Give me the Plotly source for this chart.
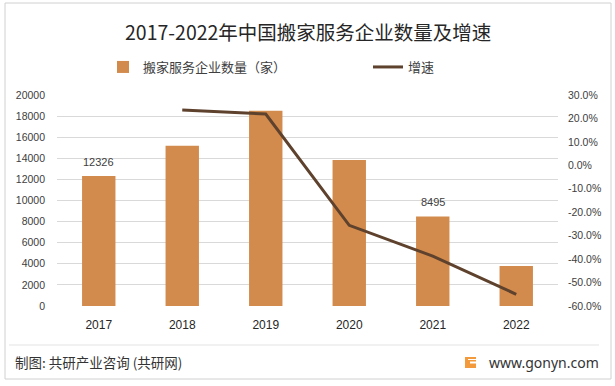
import plotly.graph_objects as go

# ---- data ----
years = [2017, 2018, 2019, 2020, 2021, 2022]
year_labels = ["2017", "2018", "2019", "2020", "2021", "2022"]
companies = [12326, 15200, 18500, 13850, 8495, 3800]
growth = [None, 0.236, 0.219, -0.256, -0.387, -0.550]
labelled = ["12326", "", "", "", "8495", ""]

left_ticks = list(range(0, 20001, 2000))
right_ticks = [0.3, 0.2, 0.1, 0.0, -0.1, -0.2, -0.3, -0.4, -0.5, -0.6]

W, H = 615, 386
L, R, T, B = 57, 57, 95, 80
PW, PH = W - L - R, H - T - B


def px(x):
    return (x - L) / PW


def py(y):
    return (H - B - y) / PH


BAR = "#D38B4D"
LINE = "#5E422D"
GRID = "#D9D9D9"
TXT = "#404040"
FONT = "Liberation Sans, Arial, sans-serif"
CJK = "Noto Sans CJK SC, sans-serif"

fig = go.Figure()
fig.add_trace(go.Bar(
    x=years, y=companies, name="搬家服务企业数量（家）",
    marker=dict(color=BAR, line=dict(width=0)), width=0.4,
    legend="legend", hoverinfo="skip",
))
fig.add_trace(go.Scatter(
    x=years, y=growth, name="增速", yaxis="y2", mode="lines",
    line=dict(color=LINE, width=3), legend="legend2", hoverinfo="skip",
))

annotations = []
for yr, v, t in zip(years, companies, labelled):
    if t:
        annotations.append(dict(
            x=yr, y=v, xref="x", yref="y", text=t, showarrow=False,
            yanchor="bottom", yshift=6, font=dict(family=FONT, size=11, color=TXT),
        ))

annotations += [
    dict(x=px(308), y=py(31), xref="paper", yref="paper",
         text="2017-2022年中国搬家服务企业数量及增速", showarrow=False,
         xanchor="center", yanchor="middle",
         font=dict(family=CJK, size=19.5, color="#262626")),
    dict(x=px(13), y=py(362), xref="paper", yref="paper",
         text="制图: 共研产业咨询 (共研网)", showarrow=False,
         xanchor="left", yanchor="middle",
         font=dict(family=CJK, size=13.5, color="#333333")),
    dict(x=px(601), y=py(362), xref="paper", yref="paper",
         text="www.gonyn.com", showarrow=False,
         xanchor="right", yanchor="middle",
         font=dict(family="Noto Sans, sans-serif", size=14, color="#333333")),
]

shapes = [
    dict(type="rect", xref="paper", yref="paper",
         x0=px(5), x1=px(611), y0=py(379), y1=py(3),
         line=dict(color="#D0D0D0", width=1), fillcolor="rgba(0,0,0,0)", layer="below"),
    dict(type="line", xref="paper", yref="paper",
         x0=px(9), x1=px(599), y0=py(345), y1=py(345),
         line=dict(color="#E3E3E3", width=1)),
    dict(type="rect", xref="paper", yref="paper",
         x0=px(465), x1=px(476), y0=py(368), y1=py(357),
         line=dict(width=0), fillcolor="#F39A3D"),
    dict(type="rect", xref="paper", yref="paper",
         x0=px(470), x1=px(476), y0=py(363.5), y1=py(361.5),
         line=dict(width=0), fillcolor="#FFFFFF"),
    dict(type="rect", xref="paper", yref="paper",
         x0=px(468), x1=px(476), y0=py(360), y1=py(359),
         line=dict(width=0), fillcolor="#FFFFFF"),
]

fig.update_layout(
    width=W, height=H,
    margin=dict(l=L, r=R, t=T, b=B, autoexpand=False),
    paper_bgcolor="white", plot_bgcolor="white",
    showlegend=True,
    legend=dict(orientation="h", x=px(103), y=py(67), xanchor="left", yanchor="middle",
                font=dict(family=CJK, size=13, color=TXT), bgcolor="rgba(0,0,0,0)",
                itemclick=False),
    legend2=dict(orientation="h", x=px(368), y=py(67), xanchor="left", yanchor="middle",
                 font=dict(family=CJK, size=13, color=TXT), bgcolor="rgba(0,0,0,0)",
                 itemclick=False),
    xaxis=dict(range=[2016.5, 2022.5], tickvals=years, ticktext=year_labels,
               showgrid=False, showline=False, zeroline=False, ticks="",
               tickfont=dict(family=FONT, size=12, color="#262626"),
               ticklabelstandoff=10, fixedrange=True),
    yaxis=dict(range=[0, 20000], tickvals=left_ticks, ticktext=[str(v) for v in left_ticks],
               showgrid=True, gridcolor=GRID, gridwidth=1, zeroline=False, showline=False,
               ticks="", tickfont=dict(family=FONT, size=10.5, color=TXT),
               ticklabelstandoff=11, fixedrange=True),
    yaxis2=dict(range=[-0.6, 0.3], overlaying="y", side="right",
                tickvals=right_ticks, ticktext=[f"{v*100:.1f}%" for v in right_ticks],
                showgrid=False, zeroline=False, showline=False, ticks="",
                tickfont=dict(family=FONT, size=10.5, color=TXT),
                ticklabelstandoff=9, fixedrange=True),
    annotations=annotations,
    shapes=shapes,
)

fig.write_html(
    "out.html",
    config={"displayModeBar": False},
    post_script="document.body.style.margin='0';document.body.style.overflow='hidden';",
)
